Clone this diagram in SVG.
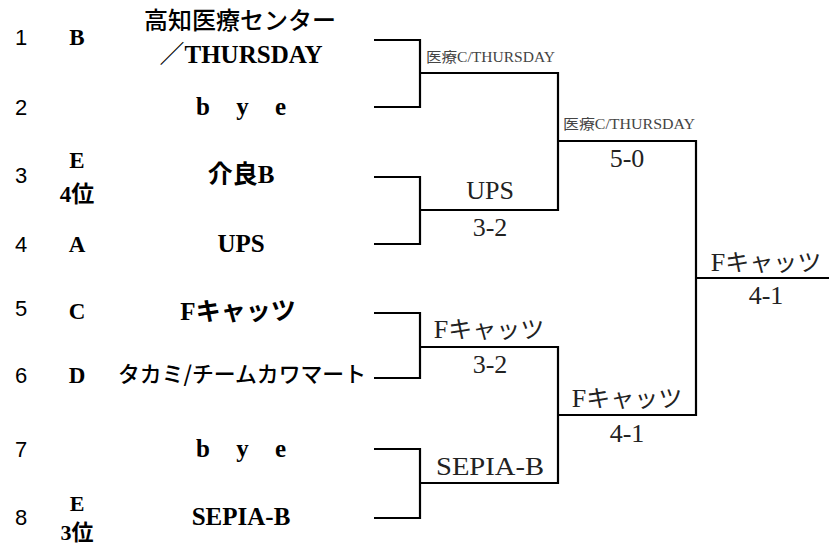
<svg xmlns="http://www.w3.org/2000/svg" width="829" height="547" viewBox="0 0 829 547">
<style>
text{font-family:"Liberation Serif",serif}
.j{font-family:"Noto Sans CJK JP",sans-serif}
.num{font-family:"Liberation Sans",sans-serif;font-size:22px;fill:#000}
.grp{font-size:23px;font-weight:bold;fill:#000;text-anchor:middle}
.team{font-size:25px;font-weight:bold;fill:#000;text-anchor:middle}
.res{font-size:26px;fill:#222;text-anchor:middle}
.small{font-size:14px;fill:#444}
.ln{fill:none;stroke:#000;stroke-width:2.2}
</style>
<rect width="829" height="547" fill="#fff"/>
<g id="entry1">
<text class="num" x="15" y="45">1</text>
<text class="grp" x="77" y="45">B</text>
<text class="team j" x="240" y="29" style="font-weight:500;font-size:24px">高知医療センター</text>
<text class="team" x="241" y="63"><tspan class="j" style="font-weight:normal">／</tspan>THURSDAY</text>
</g>
<g id="entry2">
<text class="num" x="15" y="115">2</text>
<text class="team" x="241" y="115" style="word-spacing:20px">b y e</text>
</g>
<g id="entry3">
<text class="num" x="15" y="183">3</text>
<text class="grp" x="77" y="168">E</text>
<text class="grp" x="77" y="202">4<tspan class="j">位</tspan></text>
<text class="team" x="241" y="183"><tspan class="j" style="font-weight:600">介良</tspan>B</text>
</g>
<g id="entry4">
<text class="num" x="15" y="252">4</text>
<text class="grp" x="77" y="252">A</text>
<text class="team" x="241" y="252">UPS</text>
</g>
<g id="entry5">
<text class="num" x="15" y="316">5</text>
<text class="grp" x="77" y="319">C</text>
<text class="team" x="238" y="320">F<tspan class="j" style="font-weight:600">キャッツ</tspan></text>
</g>
<g id="entry6">
<text class="num" x="15" y="383">6</text>
<text class="grp" x="77" y="383">D</text>
<text class="team j" x="242" y="382" style="font-size:22px;font-weight:500" textLength="248" lengthAdjust="spacingAndGlyphs">タカミ/チームカワマート</text>
</g>
<g id="entry7">
<text class="num" x="15" y="457">7</text>
<text class="team" x="241" y="457" style="word-spacing:20px">b y e</text>
</g>
<g id="entry8">
<text class="num" x="15" y="525">8</text>
<text class="grp" x="77" y="511" style="font-size:22px">E</text>
<text class="grp" x="77" y="540" style="font-size:22px">3<tspan class="j">位</tspan></text>
<text class="team" x="241" y="525">SEPIA-B</text>
</g>
<g id="connectors">
<path class="ln" d="M374 40 H420 V107 H374"/>
<path class="ln" d="M374 177 H420 V244 H374"/>
<path class="ln" d="M374 313 H420 V378 H374"/>
<path class="ln" d="M374 449 H420 V518 H374"/>
<path class="ln" d="M420 73 H558 V210 H420"/>
<path class="ln" d="M420 347 H558 V483 H420"/>
<path class="ln" d="M558 141 H696 V415 H558"/>
<path class="ln" d="M696 278 H829"/>
</g>
<g id="results">
<text class="small" x="426" y="62" textLength="129" lengthAdjust="spacingAndGlyphs"><tspan class="j">医療</tspan>C/THURSDAY</text>
<text class="small" x="563" y="129" textLength="132" lengthAdjust="spacingAndGlyphs"><tspan class="j">医療</tspan>C/THURSDAY</text>
<text class="res" x="627" y="167">5-0</text>
<text class="res" x="490" y="199">UPS</text>
<text class="res" x="490" y="236">3-2</text>
<text class="res" x="489" y="338">F<tspan class="j" style="font-size:24px">キャッツ</tspan></text>
<text class="res" x="490" y="373">3-2</text>
<text class="res" x="627" y="407">F<tspan class="j" style="font-size:24px">キャッツ</tspan></text>
<text class="res" x="627" y="442">4-1</text>
<text class="res" x="766" y="271">F<tspan class="j" style="font-size:24px">キャッツ</tspan></text>
<text class="res" x="766" y="304">4-1</text>
<text class="res" x="490" y="475" textLength="108" lengthAdjust="spacingAndGlyphs">SEPIA-B</text>
</g>
</svg>
